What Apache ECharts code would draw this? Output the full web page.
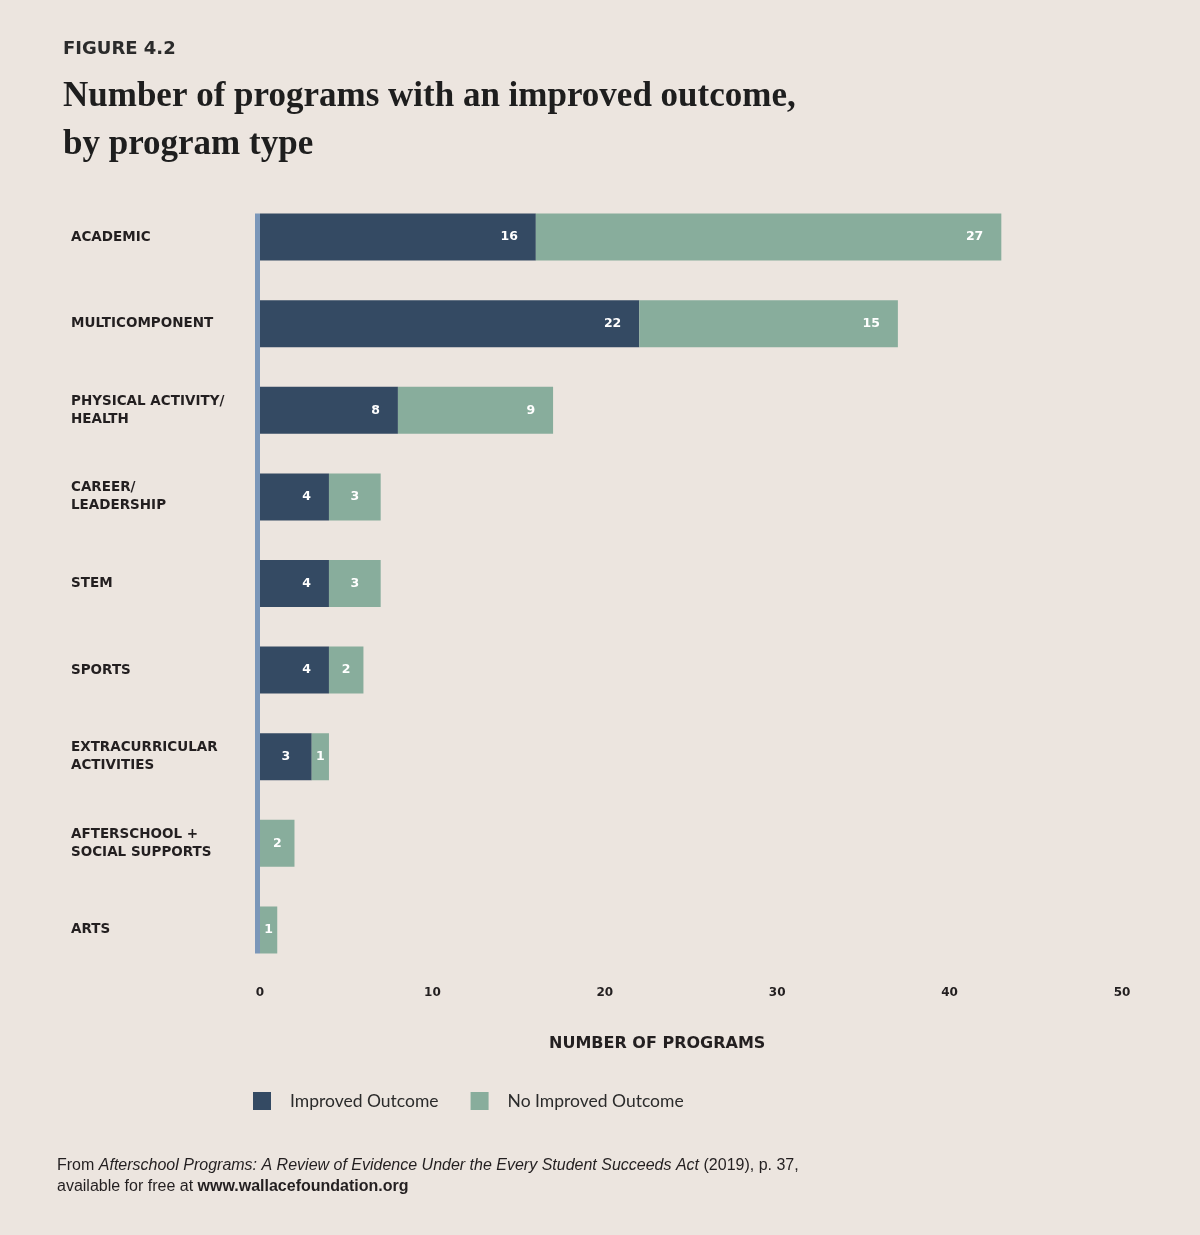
<!DOCTYPE html>
<html>
<head>
<meta charset="utf-8">
<script src="https://cdn.jsdelivr.net/npm/echarts@6/dist/echarts.min.js"></script>
<style>
html,body{margin:0;padding:0;background:#ece5df;}
#chart{width:1200px;height:1235px;}
</style>
</head>
<body>
<div id="chart"></div>
<script>
const categories = [
  'ACADEMIC',
  'MULTICOMPONENT',
  'PHYSICAL ACTIVITY/\nHEALTH',
  'CAREER/\nLEADERSHIP',
  'STEM',
  'SPORTS',
  'EXTRACURRICULAR\nACTIVITIES',
  'AFTERSCHOOL +\nSOCIAL SUPPORTS',
  'ARTS'
];
const improved = [16, 22, 8, 4, 4, 4, 3, 0, 0];
const notImproved = [27, 15, 9, 3, 3, 2, 1, 2, 1];
const seriesNames = ['Improved Outcome', 'No Improved Outcome'];
const xTicks = { min: 0, max: 50, interval: 10 };

const BAR_W = 47;
const DARK = '#344a63';
const GREEN = '#88ad9c';
const TXT = '#231f20';

function makeData(arr) {
  return arr.map(v => ({
    value: v,
    label: v <= 3 ? { position: 'inside' } : { position: 'insideRight', distance: 18 }
  }));
}

const chart = echarts.init(document.getElementById('chart'));
chart.setOption({
  backgroundColor: '#ece5df',
  animation: false,
  title: [
    {
      text: 'FIGURE 4.2', left: 63, top: 40, padding: 0,
      textStyle: { fontFamily: 'DejaVu Sans', fontWeight: 'bold', fontSize: 18, color: '#2b2b2b' }
    },
    {
      text: 'Number of programs with an improved outcome,\nby program type', left: 63, top: 73, padding: 0,
      textStyle: { fontFamily: 'Liberation Serif', fontWeight: 'bold', fontSize: 35, lineHeight: 48, color: '#1e1e1e' }
    },
    {
      text: '{n|From }{i|Afterschool Programs: A Review of Evidence Under the Every Student Succeeds Act}{n| (2019), p. 37,}\n{n|available for free at }{b|www.wallacefoundation.org}',
      left: 57, top: 1155, padding: 0,
      textStyle: {
        fontWeight: 'normal',
        rich: {
          n: { fontFamily: 'Liberation Sans', fontWeight: 'normal', fontSize: 16, color: '#231f20', lineHeight: 21 },
          i: { fontFamily: 'Liberation Sans', fontWeight: 'normal', fontStyle: 'italic', fontSize: 16, color: '#231f20', lineHeight: 21 },
          b: { fontFamily: 'Liberation Sans', fontWeight: 'bold', fontSize: 16, color: '#231f20', lineHeight: 21 }
        }
      }
    },
    {
      text: 'NUMBER OF PROGRAMS', left: 549, top: 1036, padding: 0,
      textStyle: { fontFamily: 'DejaVu Sans', fontWeight: 'bold', fontSize: 16, color: '#231f20' }
    }
  ],
  legend: {
    data: seriesNames,
    left: 253, top: 1092, padding: 0,
    itemWidth: 18, itemHeight: 18, itemGap: 32,
    icon: 'rect',
    textStyle: { fontFamily: 'Lato', fontSize: 17.5, color: '#2b2b2b', padding: [0, 0, 0, 14] }
  },
  grid: { left: 260, right: 78, top: 193.7, bottom: 261.7, containLabel: false },
  xAxis: {
    type: 'value', min: xTicks.min, max: xTicks.max, interval: xTicks.interval,
    axisLine: { show: false }, axisTick: { show: false }, splitLine: { show: false },
    axisLabel: { margin: 14, fontFamily: 'DejaVu Sans', fontWeight: 'bold', fontSize: 12, color: TXT }
  },
  yAxis: {
    type: 'category', data: categories, inverse: true,
    axisLine: { show: false }, axisTick: { show: false },
    axisLabel: {
      align: 'left', margin: 189, fontFamily: 'DejaVu Sans', fontWeight: 'bold',
      fontSize: 13.5, lineHeight: 18, color: TXT
    }
  },
  series: [
    {
      name: seriesNames[0], type: 'bar', stack: 'total', barWidth: BAR_W,
      itemStyle: { color: DARK },
      label: {
        show: true, color: '#fff', fontFamily: 'DejaVu Sans', fontWeight: 'bold', fontSize: 12.5,
        formatter: p => (p.value ? String(p.value) : '')
      },
      data: makeData(improved)
    },
    {
      name: seriesNames[1], type: 'bar', stack: 'total', barWidth: BAR_W,
      itemStyle: { color: GREEN },
      label: {
        show: true, color: '#fff', fontFamily: 'DejaVu Sans', fontWeight: 'bold', fontSize: 12.5,
        formatter: p => (p.value ? String(p.value) : '')
      },
      data: makeData(notImproved)
    },
    {
      name: 'axisline', type: 'custom', silent: true, z: 5,
      data: [[0, 0]],
      renderItem: function (params, api) {
        const top = api.coord([0, 0]);
        const bot = api.coord([0, categories.length - 1]);
        const half = BAR_W / 2;
        return {
          type: 'rect',
          shape: { x: top[0] - 5, y: top[1] - half, width: 5, height: bot[1] - top[1] + 2 * half },
          style: { fill: '#7b97b9' }
        };
      }
    }
  ]
});
</script>
</body>
</html>
